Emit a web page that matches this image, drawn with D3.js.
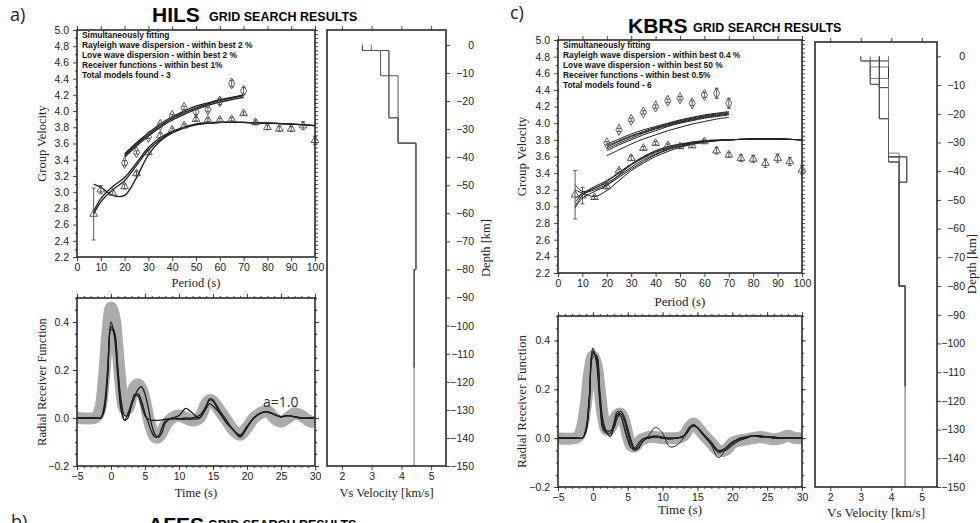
<!DOCTYPE html>
<html><head><meta charset="utf-8">
<script src="https://cdn.jsdelivr.net/npm/d3@7"></script>
<style>
body{margin:0;background:#fff}
svg{display:block}
</style></head><body>
<svg id="c" width="980" height="523"></svg>
<script>
// ---------------- DATA ----------------
const periodTicks = [0,10,20,30,40,50,60,70,80,90,100];
const gvTicks = [2.2,2.4,2.6,2.8,3.0,3.2,3.4,3.6,3.8,4.0,4.2,4.4,4.6,4.8,5.0];
const timeTicks = [-5,0,5,10,15,20,25,30];
const rfTicks = [-0.2,0.0,0.2,0.4];
const vsTicks = [2,3,4,5];
const depthTicks = [0,-10,-20,-30,-40,-50,-60,-70,-80,-90,-100,-110,-120,-130,-140,-150];

const rayPeriods = [7,10,15,20,25,30,35,40,45,50,55,60,65,70,75,80,85,90,95,100];
const lovePeriods = [20,25,30,35,40,45,50,55,60,65,70];
const rayFitPeriods = [7,10,15,20,25,30,35,40,45,50,60,70,80,90,100];
const loveFitPeriods = [20,25,30,35,40,45,50,55,60,65,70];

// HILS dispersion
const hilsRayObs = [2.73,3.03,2.99,3.07,3.23,3.49,3.70,3.77,3.82,3.90,3.89,3.89,3.90,3.97,3.86,3.80,3.78,3.78,3.82,3.64];
const hilsRayErr = [0.32,0.05,0.03,0.03,0.03,0.03,0.03,0.02,0.02,0.02,0.02,0.02,0.02,0.02,0.03,0.03,0.03,0.03,0.05,0.05];
const hilsLoveObs = [3.36,3.49,3.68,3.83,3.94,4.04,3.99,4.02,4.12,4.34,4.25];
const hilsLoveErr = [0.03,0.02,0.02,0.02,0.02,0.02,0.03,0.03,0.04,0.04,0.04];
const hilsRayFit1 = [2.76,2.92,3.07,3.18,3.36,3.55,3.67,3.75,3.80,3.84,3.86,3.86,3.85,3.84,3.82];
const hilsRayFit2 = [2.73,2.88,3.03,3.14,3.33,3.52,3.65,3.74,3.80,3.84,3.86,3.86,3.85,3.84,3.82];
const hilsRayFit3 = [3.10,3.06,2.96,2.96,3.18,3.46,3.63,3.73,3.79,3.83,3.86,3.86,3.85,3.84,3.82];
const hilsLoveFit1 = [3.47,3.61,3.73,3.84,3.93,4.00,4.06,4.10,4.14,4.17,4.20];
const hilsLoveFit2 = [3.43,3.57,3.69,3.80,3.89,3.96,4.02,4.07,4.11,4.14,4.17];
const hilsLoveFit3 = [3.45,3.59,3.71,3.82,3.91,3.98,4.04,4.09,4.13,4.16,4.19];

// KBRS dispersion
const kbrsRayObs = [3.14,3.13,3.11,3.24,3.43,3.58,3.70,3.76,3.73,3.72,3.73,3.78,3.67,3.62,3.58,3.57,3.52,3.58,3.54,3.44];
const kbrsRayErr = [0.29,0.10,0.02,0.03,0.02,0.03,0.02,0.02,0.02,0.02,0.02,0.02,0.04,0.03,0.04,0.04,0.05,0.05,0.05,0.05];
const kbrsLoveObs = [3.76,3.92,4.04,4.13,4.20,4.27,4.30,4.24,4.34,4.36,4.24];
const kbrsLoveErr = [0.02,0.02,0.02,0.02,0.02,0.02,0.02,0.03,0.03,0.06,0.06];
const kbrsRayFit1 = [3.26,3.18,3.22,3.30,3.40,3.50,3.58,3.65,3.70,3.74,3.79,3.80,3.81,3.81,3.80];
const kbrsRayFit2 = [3.05,3.15,3.24,3.31,3.41,3.51,3.60,3.67,3.72,3.75,3.79,3.80,3.81,3.81,3.80];
const kbrsRayFit3 = [3.00,3.13,3.22,3.28,3.37,3.47,3.56,3.63,3.69,3.73,3.78,3.80,3.81,3.81,3.80];
const kbrsRayFit4 = [3.10,3.15,3.20,3.26,3.35,3.45,3.54,3.62,3.68,3.72,3.78,3.80,3.81,3.81,3.80];
const kbrsRayFit5 = [3.20,3.16,3.12,3.19,3.31,3.43,3.52,3.60,3.66,3.71,3.77,3.80,3.81,3.81,3.80];
const kbrsRayFit6 = [2.98,3.10,3.18,3.25,3.38,3.50,3.59,3.66,3.71,3.74,3.78,3.80,3.81,3.81,3.80];
const kbrsLoveFit1 = [3.75,3.81,3.87,3.92,3.96,4.00,4.04,4.07,4.10,4.12,4.14];
const kbrsLoveFit2 = [3.73,3.79,3.85,3.90,3.95,3.99,4.03,4.06,4.09,4.11,4.13];
const kbrsLoveFit3 = [3.71,3.78,3.84,3.89,3.94,3.98,4.02,4.05,4.08,4.10,4.12];
const kbrsLoveFit4 = [3.69,3.76,3.82,3.88,3.93,3.97,4.01,4.04,4.07,4.09,4.11];
const kbrsLoveFit5 = [3.67,3.74,3.80,3.86,3.91,3.96,4.00,4.03,4.06,4.08,4.10];
const kbrsLoveFit6 = [3.61,3.68,3.75,3.81,3.86,3.91,3.95,3.99,4.02,4.05,4.07];

// Receiver functions (time grid, s)
const rfTime = [-5,-2.5,-2,-1.5,-1,-0.5,0,0.5,1,1.5,2,2.5,3,3.5,4,4.5,5,5.5,6,6.5,7,7.5,8,9,10,11,12,13,14,14.5,15,16,17,18,19,20,21,22,23,24,25,26,27,28,29,30];
const hilsRfObs = [0,0,0.01,0.05,0.18,0.36,0.46,0.42,0.28,0.12,0.04,0.04,0.09,0.13,0.14,0.12,0.07,0.0,-0.05,-0.08,-0.08,-0.06,-0.03,0.0,0.01,0.0,-0.01,0.0,0.06,0.075,0.07,0.03,-0.01,-0.05,-0.07,-0.04,0.0,0.02,0.03,0.0,-0.015,0.0,0.02,0.01,-0.01,-0.02];
const hilsRf1 = [0,0,0,0,0.04,0.18,0.38,0.36,0.2,0.07,0.01,0.01,0.05,0.09,0.12,0.13,0.1,0.04,-0.03,-0.07,-0.08,-0.06,-0.02,0.0,-0.005,-0.005,-0.005,0.0,0.05,0.075,0.07,0.02,-0.02,-0.05,-0.075,-0.04,0.0,0.02,0.025,0.015,0.005,0.01,0.005,0,0,0];
const hilsRf2 = [0,0,0,0,0.05,0.2,0.40,0.34,0.17,0.03,-0.01,0.0,0.06,0.09,0.10,0.07,0.02,-0.02,-0.06,-0.08,-0.075,-0.04,-0.01,0.0,0.01,0.04,0.02,0.0,0.04,0.06,0.05,0.02,-0.02,-0.05,-0.08,-0.04,0.0,0.02,0.025,0.015,0.005,0.01,0.005,0,0,0];
const hilsRf3 = [0,0,0,0,0.03,0.17,0.37,0.35,0.21,0.05,-0.01,0.02,0.06,0.10,0.09,0.05,0.01,-0.005,-0.01,-0.01,-0.01,-0.008,-0.005,-0.005,-0.003,0.0,0.0,0.01,0.05,0.08,0.075,0.03,-0.01,-0.05,-0.07,-0.035,0.0,0.02,0.025,0.015,0.005,0.01,0.005,0,0,0];

const kbrsRfObs = [0,0,0.01,0.05,0.14,0.27,0.335,0.30,0.19,0.08,0.035,0.04,0.07,0.095,0.10,0.07,0.01,-0.03,-0.035,-0.02,-0.005,0,0.005,0.005,0,0,0,0.01,0.05,0.06,0.045,0.01,-0.02,-0.05,-0.05,-0.02,-0.01,-0.005,0,0.005,0,-0.005,0,0.01,0,0];
const kbrsRf1 = [0,0,0,0,0.03,0.15,0.33,0.33,0.18,0.06,0.03,0.03,0.05,0.09,0.10,0.07,0.02,-0.03,-0.045,-0.03,-0.01,0,0,0.005,0,0,0,0.01,0.045,0.05,0.04,0.01,-0.02,-0.05,-0.04,-0.015,-0.005,0.005,0.01,0.005,0.005,0,0,0,0,0];
const kbrsRf2 = [0,0,0,0,0.04,0.18,0.36,0.32,0.15,0.04,0.02,0.005,0.04,0.10,0.11,0.08,0.03,-0.02,-0.05,-0.04,-0.02,-0.005,0.01,0.044,0.02,-0.035,-0.03,0.0,0.04,0.05,0.045,0.01,-0.03,-0.08,-0.05,-0.02,0,0.005,0.01,0.005,0.005,0,0,0,0,0];
const kbrsRf3 = [0,0,0,0,0.03,0.16,0.35,0.34,0.17,0.05,0.02,0.02,0.06,0.10,0.09,0.05,0.0,-0.04,-0.05,-0.03,-0.01,0,0.005,0.01,0.005,0,0,0.01,0.05,0.055,0.04,0.01,-0.02,-0.06,-0.045,-0.02,-0.005,0.005,0.01,0.01,0.005,0.005,0,0,0,0];
const kbrsRf4 = [0,0,0,0,0.035,0.17,0.37,0.31,0.14,0.03,0.02,0.01,0.06,0.11,0.09,0.04,-0.01,-0.04,-0.04,-0.02,-0.005,0,0.005,0.005,0,0,0,0.005,0.04,0.05,0.04,0.005,-0.025,-0.055,-0.04,-0.015,-0.005,0,0.01,0.005,0.005,0,0,0,0,0];
const kbrsRf5 = [0,0,0,0,0.025,0.14,0.34,0.34,0.2,0.07,0.03,0.03,0.04,0.08,0.10,0.08,0.04,-0.01,-0.04,-0.04,-0.02,-0.005,0,0.005,0,-0.005,0,0.01,0.04,0.055,0.045,0.015,-0.015,-0.05,-0.05,-0.025,-0.01,0,0.01,0.01,0.005,0.005,0,0,0,0];
const kbrsRf6 = [0,0,0,0,0.03,0.16,0.35,0.33,0.17,0.05,0.025,0.02,0.05,0.09,0.11,0.09,0.04,-0.01,-0.045,-0.045,-0.02,-0.005,0,0.005,0,0,0,0.01,0.05,0.05,0.04,0.01,-0.02,-0.05,-0.05,-0.03,-0.01,0,0.01,0.005,0.005,0,0,0,0,0];

// Velocity models: [Vs (km/s), layer bottom depth (km)]
const hilsModel1 = [[2.69,-2],[3.30,-11],[3.89,-35],[4.49,-80],[4.43,-115]];
const hilsModel2 = [[2.99,-2],[3.58,-26],[3.89,-35],[4.49,-80],[4.43,-115]];
const hilsModel3 = [[2.69,-2],[3.58,-26],[3.89,-35],[4.49,-80],[4.43,-115]];
const kbrsModel1 = [[3.00,-1.6],[3.91,-35],[4.26,-80],[4.46,-115]];
const kbrsModel2 = [[3.91,-3.7],[3.31,-9.75],[3.61,-21.7],[3.91,-35],[4.51,-43.8],[4.26,-80],[4.46,-115]];
const kbrsModel3 = [[3.61,-10.9],[3.91,-36.8],[4.26,-80],[4.46,-115]];
const kbrsModel4 = [[3.00,-1.6],[3.31,-7.7],[3.91,-33.7],[4.26,-80],[4.46,-115]];
const kbrsModel5 = [[3.61,-21.7],[3.91,-35],[4.51,-43.8],[4.26,-80],[4.46,-115]];
const kbrsModel6 = [[3.31,-9.75],[3.61,-21.7],[3.91,-36.8],[4.26,-80],[4.46,-115]];
const halfspaceBottom = -150;

const hilsText = ["Simultaneously fitting","Rayleigh wave dispersion - within best 2 %","Love wave dispersion - within best 2 %","Receiver functions - within best 1%","Total models found - 3"];
const kbrsText = ["Simultaneously fitting","Rayleigh wave dispersion - within best 0.4 %","Love wave dispersion - within best 50 %","Receiver functions - within best 0.5%","Total models found - 6"];

// ---------------- DRAWING ----------------
const SANS = '"Liberation Sans", Arial, Helvetica, sans-serif';
const SERIF = '"Liberation Serif", "Times New Roman", serif';
const HUM = '"Open Sans", "Noto Sans", sans-serif';
const svg = d3.select("#c");
let clipId = 0;

function addAxis(g, axis, tx, ty) {
  const a = g.append("g").attr("transform", `translate(${tx},${ty})`).call(axis);
  a.attr("font-family", SANS).attr("font-size", 10.5);
  a.select(".domain").remove();
  a.selectAll(".tick line").attr("stroke", "#333").attr("stroke-width", 0.9);
  a.selectAll(".tick text").attr("fill", "#222");
  return a;
}
function frame(g, b) {
  g.append("rect").attr("x", b.x0).attr("y", b.y0).attr("width", b.x1 - b.x0).attr("height", b.y1 - b.y0)
    .attr("fill", "none").attr("stroke", "#2a2a2a").attr("stroke-width", 1.6);
}
function clip(b) {
  const id = "clip" + (clipId++);
  svg.append("clipPath").attr("id", id).append("rect")
    .attr("x", b.x0).attr("y", b.y0).attr("width", b.x1 - b.x0).attr("height", b.y1 - b.y0);
  return `url(#${id})`;
}
function label(txt, x, y, rot, size, fam) {
  const t = svg.append("text").text(txt).attr("font-family", fam || SERIF).attr("font-size", size || 12.5)
    .attr("fill", "#222").attr("text-anchor", "middle");
  if (rot) t.attr("transform", `translate(${x},${y}) rotate(-90)`);
  else t.attr("x", x).attr("y", y);
  return t;
}

function drawDisp(b, ray, rayErr, love, loveErr, rayFits, loveFits, textLines, textY0, lw) {
  const x = d3.scaleLinear().domain([0, 100]).range([b.x0, b.x1]);
  const y = d3.scaleLinear().domain([2.2, 5.0]).range([b.y1, b.y0]);
  const g = svg.append("g");
  addAxis(g, d3.axisBottom(x).tickValues(periodTicks).tickSize(4).tickPadding(3).tickFormat(d3.format("d")), 0, b.y1);
  addAxis(g, d3.axisTop(x).tickValues(periodTicks).tickSize(4).tickFormat(""), 0, b.y0);
  addAxis(g, d3.axisLeft(y).tickValues(gvTicks).tickSize(4).tickPadding(4).tickFormat(d3.format(".1f")), b.x0, 0);
  addAxis(g, d3.axisLeft(y).tickValues(d3.range(2.3, 5.0, 0.2)).tickSize(2).tickFormat(""), b.x0, 0);
  addAxis(g, d3.axisRight(y).tickValues(d3.range(2.2, 5.001, 0.05)).tickSize(3).tickFormat(""), b.x1, 0);
  const cp = clip(b);
  const line = d3.line().x(d => x(d[0])).y(d => y(d[1])).curve(d3.curveCatmullRom.alpha(0.5));
  const lg = g.append("g").attr("clip-path", cp);
  rayFits.forEach(f => lg.append("path").attr("d", line(rayFitPeriods.map((p, i) => [p, f[i]])))
    .attr("fill", "none").attr("stroke", "#1e1e1e").attr("stroke-width", lw));
  loveFits.forEach(f => lg.append("path").attr("d", line(loveFitPeriods.map((p, i) => [p, f[i]])))
    .attr("fill", "none").attr("stroke", "#1e1e1e").attr("stroke-width", lw));
  const sg = g.append("g").attr("stroke", "#4a4a4a").attr("fill", "none").attr("stroke-width", 0.9);
  const drawPts = (per, v, e, type, size) => {
    per.forEach((p, i) => {
      const px = x(p), y1 = y(v[i] - e[i]), y2 = y(v[i] + e[i]);
      sg.append("line").attr("x1", px).attr("x2", px).attr("y1", y1).attr("y2", y2);
      sg.append("line").attr("x1", px - 2).attr("x2", px + 2).attr("y1", y1).attr("y2", y1);
      sg.append("line").attr("x1", px - 2).attr("x2", px + 2).attr("y1", y2).attr("y2", y2);
      sg.append("path").attr("d", d3.symbol().type(type).size(size)())
        .attr("transform", `translate(${px},${y(v[i])})`);
    });
  };
  drawPts(rayPeriods, ray, rayErr, d3.symbolTriangle, 26);
  drawPts(lovePeriods, love, loveErr, d3.symbolDiamond, 34);
  const tg = g.append("g").attr("font-family", SANS).attr("font-weight", "bold").attr("font-size", 8.4).attr("fill", "#111");
  textLines.forEach((t, i) => tg.append("text").attr("x", b.x0 + 5).attr("y", textY0 + i * 9.9).text(t));
  frame(g, b);
}

function drawRF(b, obs, fits, lw) {
  const x = d3.scaleLinear().domain([-5, 30]).range([b.x0, b.x1]);
  const y = d3.scaleLinear().domain([-0.2, 0.5]).range([b.y1, b.y0]);
  const g = svg.append("g");
  addAxis(g, d3.axisBottom(x).tickValues(timeTicks).tickSize(4).tickPadding(3).tickFormat(d3.format("d")), 0, b.y1);
  addAxis(g, d3.axisBottom(x).tickValues(d3.range(-5, 30.01, 1)).tickSize(2).tickFormat(""), 0, b.y1);
  addAxis(g, d3.axisTop(x).tickValues(d3.range(-5, 30.01, 1)).tickSize(2).tickFormat(""), 0, b.y0);
  addAxis(g, d3.axisTop(x).tickValues(timeTicks).tickSize(4).tickFormat(""), 0, b.y0);
  addAxis(g, d3.axisLeft(y).tickValues(rfTicks).tickSize(4).tickPadding(4).tickFormat(d3.format(".1f")), b.x0, 0);
  addAxis(g, d3.axisLeft(y).tickValues(d3.range(-0.2, 0.501, 0.05)).tickSize(2).tickFormat(""), b.x0, 0);
  addAxis(g, d3.axisRight(y).tickValues(d3.range(-0.2, 0.501, 0.05)).tickSize(2).tickFormat(""), b.x1, 0);
  addAxis(g, d3.axisRight(y).tickValues(rfTicks).tickSize(4).tickFormat(""), b.x1, 0);
  const cp = clip(b);
  const line = d3.line().x(d => x(d[0])).y(d => y(d[1])).curve(d3.curveCatmullRom.alpha(0.5));
  const lg = g.append("g").attr("clip-path", cp);
  lg.append("path").attr("d", line(rfTime.map((t, i) => [t, obs[i]])))
    .attr("fill", "none").attr("stroke", "#ababab").attr("stroke-width", 12).attr("stroke-linejoin", "round");
  fits.forEach(f => lg.append("path").attr("d", line(rfTime.map((t, i) => [t, f[i]])))
    .attr("fill", "none").attr("stroke", "#1e1e1e").attr("stroke-width", lw));
  frame(g, b);
}

function drawVel(b, depthTop, models, colors) {
  const x = d3.scaleLinear().domain([1.5, 5.5]).range([b.x0, b.x1]);
  const y = d3.scaleLinear().domain([depthTop, -150]).range([b.y0, b.y1]);
  const g = svg.append("g");
  addAxis(g, d3.axisBottom(x).tickValues(vsTicks).tickSize(4).tickPadding(3).tickFormat(d3.format("d")), 0, b.y1);
  addAxis(g, d3.axisTop(x).tickValues(vsTicks).tickSize(4).tickFormat(""), 0, b.y0);
  const ra = addAxis(g, d3.axisRight(y).tickValues(depthTicks).tickSize(4).tickFormat(d3.format("d")), b.x1, 0);
  ra.selectAll(".tick text").attr("text-anchor", "end").attr("x", 28);
  const line = d3.line().x(d => x(d[0])).y(d => y(d[1]));
  models.forEach((m, k) => {
    const pts = [];
    let top = 0;
    m.forEach(([v, bot]) => { pts.push([v, top]); pts.push([v, bot]); top = bot; });
    g.append("path").attr("d", line(pts)).attr("fill", "none").attr("stroke", colors[k]).attr("stroke-width", 1);
    const last = m[m.length - 1];
    g.append("path").attr("d", line([[last[0], last[1]], [last[0], halfspaceBottom]]))
      .attr("fill", "none").attr("stroke", "#a8a8a8").attr("stroke-width", 1);
  });
  frame(g, b);
}

// ---- layout ----
const H = {
  disp: {x0: 77, x1: 315, y0: 30, y1: 257},
  rf: {x0: 77, x1: 315, y0: 298, y1: 466},
  vel: {x0: 327, x1: 446, y0: 30, y1: 466}
};
const K = {
  disp: {x0: 558, x1: 802, y0: 40, y1: 273},
  rf: {x0: 558, x1: 802, y0: 316, y1: 487},
  vel: {x0: 815, x1: 937, y0: 42, y1: 487}
};

drawDisp(H.disp, hilsRayObs, hilsRayErr, hilsLoveObs, hilsLoveErr,
  [hilsRayFit1, hilsRayFit2, hilsRayFit3], [hilsLoveFit1, hilsLoveFit2, hilsLoveFit3], hilsText, 38, 1.3);
drawRF(H.rf, hilsRfObs, [hilsRf1, hilsRf2, hilsRf3], 1.3);
drawVel(H.vel, 5.3, [hilsModel1, hilsModel2, hilsModel3], ["#555", "#666", "#555"]);

drawDisp(K.disp, kbrsRayObs, kbrsRayErr, kbrsLoveObs, kbrsLoveErr,
  [kbrsRayFit1, kbrsRayFit2, kbrsRayFit3, kbrsRayFit4, kbrsRayFit5, kbrsRayFit6],
  [kbrsLoveFit1, kbrsLoveFit2, kbrsLoveFit3, kbrsLoveFit4, kbrsLoveFit5, kbrsLoveFit6], kbrsText, 48, 1.0);
drawRF(K.rf, kbrsRfObs, [kbrsRf1, kbrsRf2, kbrsRf3, kbrsRf4, kbrsRf5, kbrsRf6], 1.0);
drawVel(K.vel, 5, [kbrsModel1, kbrsModel2, kbrsModel3, kbrsModel4, kbrsModel5, kbrsModel6],
  ["#333", "#777", "#333", "#777", "#444", "#555"]);

// axis titles
label("Group Velocity", 46, 143.5, true);
label("Period (s)", 196, 287);
label("Radial Receiver Function", 46, 382, true);
label("Time (s)", 196, 497);
label("Vs Velocity [km/s]", 386.5, 497);
label("Depth [km]", 490, 248, true);

label("Group Velocity", 526, 156.5, true, 13);
label("Period (s)", 680, 306, false, 13);
label("Radial Receiver Function", 526, 401.5, true, 13);
label("Time (s)", 680, 514, false, 13);
label("Vs Velocity [km/s]", 876, 517, false, 13);
label("Depth [km]", 976, 264, true, 13);

// titles
function title(letter, lx, ly, station, sx, sy, gx, gy) {
  svg.append("text").text(letter).attr("x", lx).attr("y", ly).attr("font-family", HUM).attr("font-size", 18).attr("fill", "#222");
  svg.append("text").text(station).attr("x", sx).attr("y", sy).attr("font-family", SANS).attr("font-weight", "bold").attr("font-size", 21).attr("fill", "#000");
  svg.append("text").text("GRID SEARCH RESULTS").attr("x", gx).attr("y", gy).attr("font-family", SANS).attr("font-weight", "bold").attr("font-size", 12.5).attr("fill", "#000");
}
title("a)", 10, 21, "HILS", 152, 22, 209, 21);
title("c)", 510, 19, "KBRS", 628, 33, 693, 32);
title("b)", 11, 528, "AFES", 148, 532, 208, 529);

svg.append("text").text("a=1.0").attr("x", 263).attr("y", 407).attr("font-family", HUM).attr("font-size", 14).attr("fill", "#333");
</script>
</body></html>
